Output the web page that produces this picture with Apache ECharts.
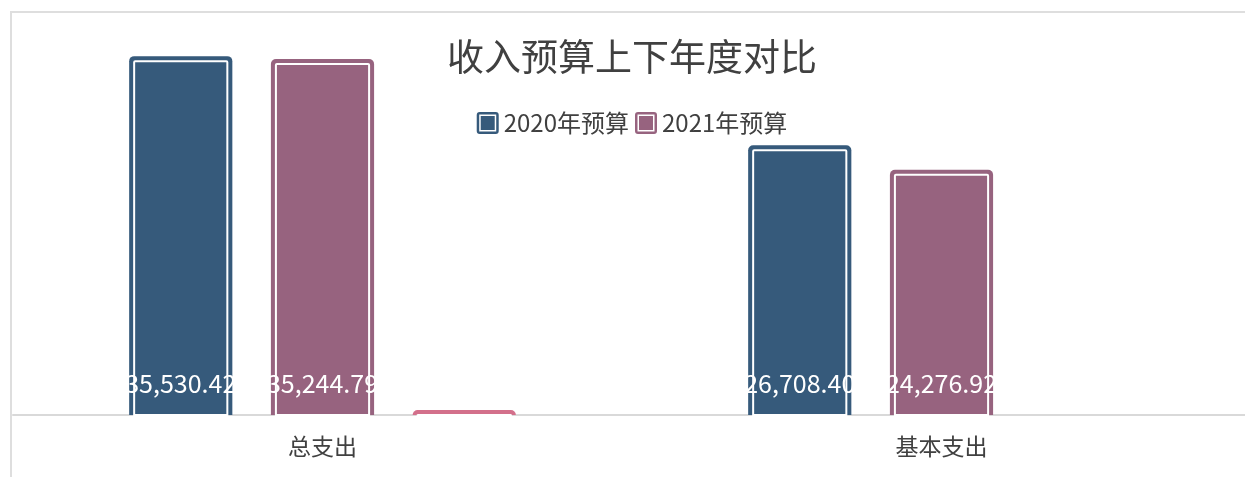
<!DOCTYPE html>
<html>
<head>
<meta charset="utf-8">
<script src="https://cdn.jsdelivr.net/npm/echarts@6/dist/echarts.min.js"></script>
<style>
html,body{margin:0;padding:0;background:#fff;overflow:hidden;width:1245px;height:477px;}
#frame{position:absolute;left:10px;top:11px;width:1300px;height:500px;border-left:2px solid #dedede;border-top:2px solid #dedede;}
#chart{position:absolute;left:12px;top:11px;width:1240px;height:466px;}
</style>
</head>
<body>
<div id="frame"></div>
<div id="chart"></div>
<script>
const categories = ['总支出', '基本支出'];
const seriesNames = ['2020年预算', '2021年预算', '增减'];
const values2020 = [35530.42, 26708.40];
const values2021 = [35244.79, 24276.92];
const valuesDiff = [500, null];
const colors = ['#365a7b', '#97637f', '#d3708b'];

const legendIcon = 'path://M3,0H19Q22,0 22,3V19Q22,22 19,22H3Q0,22 0,19V3Q0,0 3,0Z M2.5,2.5V19.5H19.5V2.5Z M4,4H18V18H4Z';
const FONT = '"Noto Sans CJK SC","Noto Sans",sans-serif';

function makeRender(sIdx, showLabel) {
  return function (params, api) {
    const v = api.value(1);
    if (v == null || isNaN(v)) return;
    const cat = api.value(0);
    const base = api.coord([cat, 0]);
    const top = api.coord([cat, v]);
    const band = api.size([1, 0])[0];
    const w = band * 0.1667;
    const cx = base[0] + (sIdx - 1) * band * 0.229;
    const x = cx - w / 2;
    const h = base[1] - top[1];
    const inset = 5;
    const children = [
      { type: 'rect', shape: { x: x, y: top[1], width: w, height: h, r: [5, 5, 0, 0] },
        style: { fill: colors[sIdx] } },
      { type: 'rect', shape: { x: x + inset, y: top[1] + inset, width: w - 2 * inset, height: Math.max(h - inset, 0), r: [1, 1, 0, 0] },
        style: { fill: 'none', stroke: '#ffffff', lineWidth: 2 } }
    ];
    if (showLabel) {
      children.push({ type: 'text', style: {
        text: echarts.format.addCommas(v.toFixed(2)), x: cx, y: base[1] - 32,
        fill: '#ffffff', fontSize: 25, fontFamily: FONT, align: 'center', verticalAlign: 'middle' } });
    }
    return { type: 'group', children: children };
  };
}

const dataSets = [values2020, values2021, valuesDiff];
const chart = echarts.init(document.getElementById('chart'));
chart.setOption({
  animation: false,
  title: {
    text: '收入预算上下年度对比', left: 'center', top: 27, padding: 0,
    textStyle: { fontSize: 37, fontWeight: 'normal', color: '#404040', fontFamily: FONT }
  },
  legend: {
    top: 100, left: 'center', padding: 0, itemGap: 6, itemWidth: 22, itemHeight: 22,
    textStyle: { fontSize: 24, color: '#404040', fontFamily: FONT },
    data: [
      { name: seriesNames[0], icon: legendIcon, itemStyle: { color: colors[0] } },
      { name: seriesNames[1], icon: legendIcon, itemStyle: { color: colors[1] } }
    ]
  },
  grid: { left: 1, right: 1, top: 0, bottom: 62 },
  xAxis: {
    type: 'category', data: categories,
    axisLine: { show: true, lineStyle: { color: '#d9d9d9', width: 2 } },
    axisTick: { show: false },
    axisLabel: { fontSize: 23, color: '#404040', margin: 20, fontFamily: FONT }
  },
  yAxis: { type: 'value', min: 0, max: 40000, show: false, splitLine: { show: false } },
  series: dataSets.map((arr, i) => ({
    type: 'custom', name: seriesNames[i], clip: false,
    itemStyle: { color: colors[i] },
    encode: { x: 0, y: 1 },
    data: arr.map((v, j) => [j, v]),
    renderItem: makeRender(i, i < 2)
  }))
});
</script>
</body>
</html>
